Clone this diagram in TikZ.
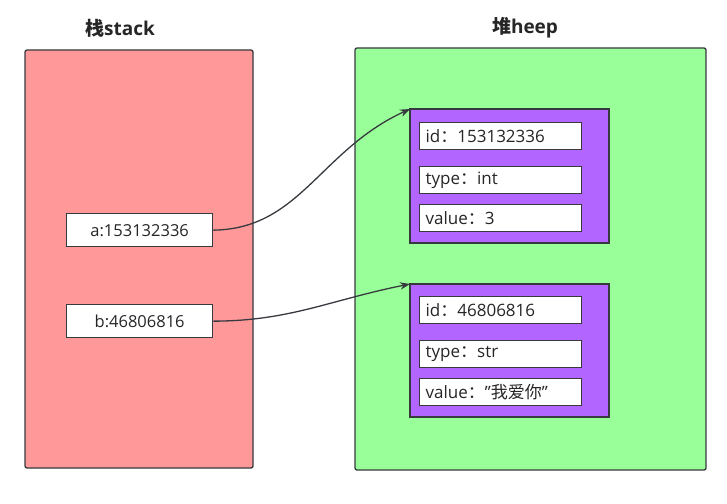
\documentclass[tikz,border=0pt]{standalone}
\usepackage{fontspec}
\setmainfont{Open Sans}
\newfontfamily\cjk{Noto Sans CJK SC}
\usetikzlibrary{arrows.meta}
\definecolor{edge}{HTML}{36393D}
\definecolor{stackfill}{HTML}{FF9999}
\definecolor{heapfill}{HTML}{99FF99}
\definecolor{objfill}{HTML}{B266FF}
\begin{document}
\begin{tikzpicture}[x=1pt,y=-1pt,
  region/.style={draw=edge,line width=1.3pt,rounded corners=2pt},
  obj/.style={draw=edge,line width=1.3pt,fill=objfill},
  field/.style={draw=edge,line width=1.3pt,fill=white,minimum width=162pt,minimum height=27pt,text width=150pt,align=left,inner sep=0pt,font=\fontsize{17}{19}\selectfont,text=black!85,anchor=north west},
  var/.style={draw=edge,line width=1.3pt,fill=white,minimum width=146pt,minimum height=33pt,inner sep=0pt,font=\fontsize{16.5}{18}\selectfont,text=black!85,anchor=north west},
  title/.style={font=\bfseries\fontsize{19}{22}\selectfont,text=black!85},
  link/.style={draw=edge,line width=1.3pt,-{Stealth[length=10pt,width=7.5pt]}}]
\useasboundingbox (0,0) rectangle (727,503);
\draw[region,fill=stackfill] (25,50) rectangle (253,468);
\draw[region,fill=heapfill] (355,48) rectangle (706,470);
\node[title] (tstack) at (120,28) {{\cjk\bfseries 栈}stack};
\node[title] (theap) at (525,28) {{\cjk\bfseries 堆}heep};
\draw[obj] (410,109) rectangle (609,243);
\coordinate (o1) at (410,109);
\draw[obj] (410,284) rectangle (609,417);
\coordinate (o2) at (410,284);
\node[field] (id1) at (419,122) {id{\cjk ：}153132336};
\node[field] (ty1) at (419,166) {type{\cjk ：}int};
\node[field] (va1) at (419,204) {value{\cjk ：}3};
\node[field] (id2) at (419,296) {id{\cjk ：}46806816};
\node[field] (ty2) at (419,340) {type{\cjk ：}str};
\node[field] (va2) at (419,378) {value{\cjk ：}\char"22{\cjk 我爱你}\char"22};
\node[var] (a) at (66,213) {a:153132336};
\node[var] (b) at (66,304) {b:46806816};
\draw[link] (a.east) .. controls (300,229) and (320,150) .. (o1);
\draw[link] (b.east) .. controls (290,321) and (330,300) .. (o2);
\end{tikzpicture}
\end{document}
